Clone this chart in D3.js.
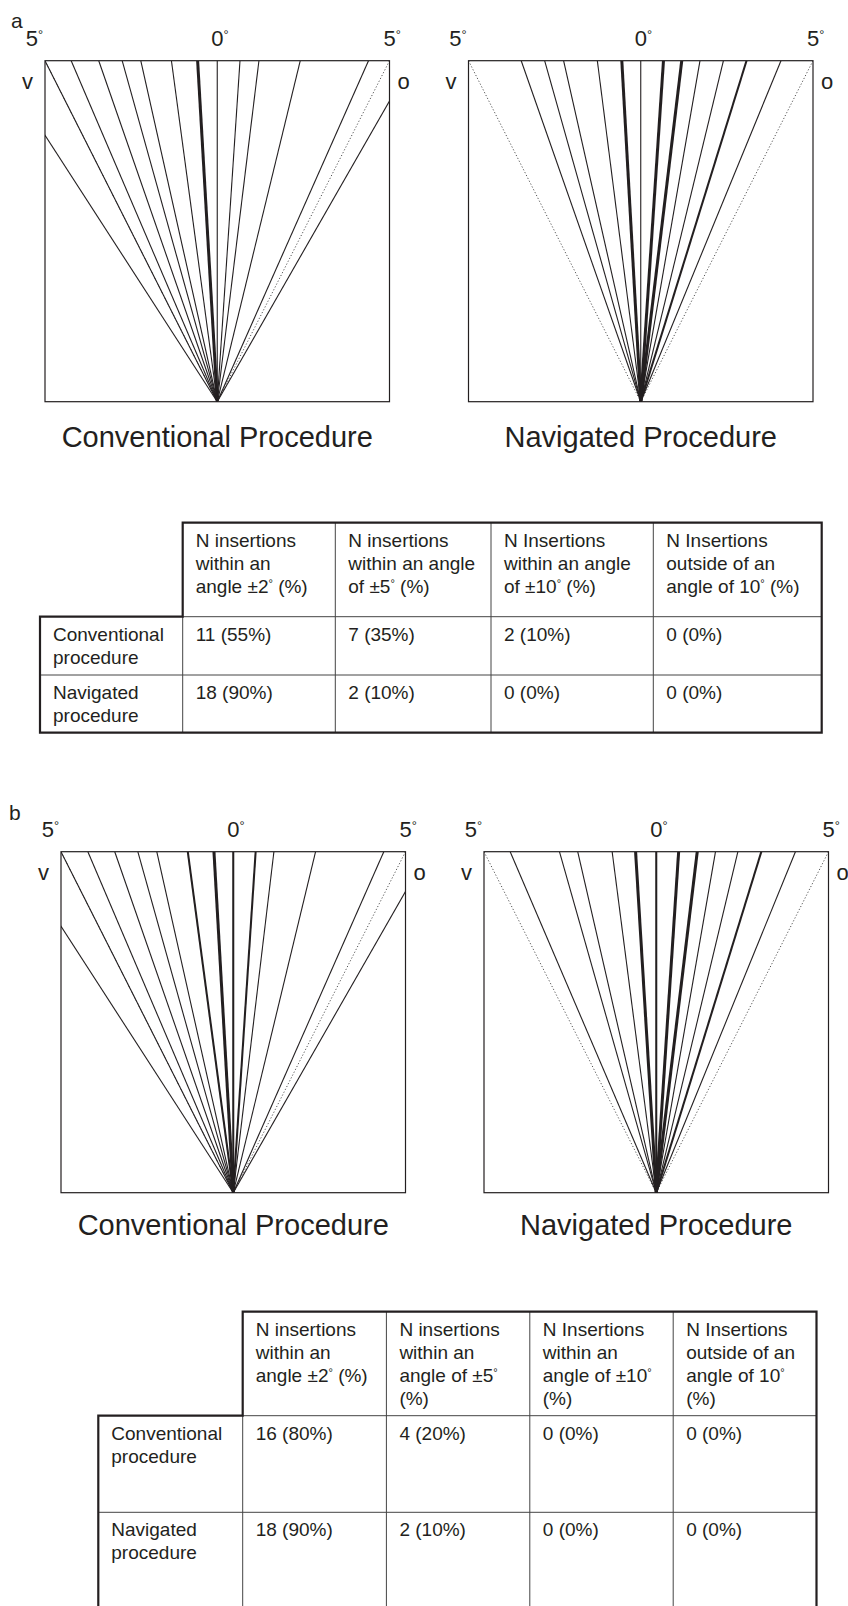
<!DOCTYPE html>
<html>
<head>
<meta charset="utf-8">
<script src="https://cdn.jsdelivr.net/npm/d3@7"></script>
<style>
  html, body { margin: 0; padding: 0; background: #fff; }
  svg { display: block; }
  text { font-family: "Liberation Sans", Arial, Helvetica, sans-serif; fill: #231f20; }
</style>
</head>
<body>
<svg id="fig" width="848" height="1606"></svg>
<script>
// Insertion trajectories: lateral deviation at the top of the field, in degrees
// (negative = towards "v", positive = towards "o"); weight = overlapping insertions.
const convAAngles = [-6.4, -5.0, -4.24, -3.44, -2.76, -2.22, -1.33, -0.57, 0, 0.66, 1.21, 2.41, 4.39, 5.67];
const convAWeight = [1, 1, 1, 1, 1, 1, 1, 3, 1, 1, 1, 1, 1, 1];
const navAAngles  = [-3.47, -2.79, -2.24, -1.26, -0.55, 0, 0.66, 1.19, 1.72, 2.40, 3.07, 4.07];
const navAWeight  = [1, 1, 1, 1, 3, 1, 3, 3, 1, 1, 2, 1];
const convBAngles = [-6.4, -5.0, -4.22, -3.44, -2.77, -2.22, -1.32, -0.56, 0, 0.65, 1.18, 2.39, 4.37, 5.66];
const convBWeight = [1, 1, 1, 1, 1, 1, 2, 3, 2, 2, 1, 1, 1, 1];
const navBAngles  = [-4.24, -2.81, -2.28, -1.28, -0.60, 0, 0.65, 1.19, 1.72, 2.37, 3.05, 4.04];
const navBWeight  = [1, 1, 1, 1, 3, 2, 3, 3, 1, 1, 2, 1];

// ±5° reference limits and the angle labels along the top
const limitAngles = [-5, 5];
const degreeTicks = [-5, 0, 5];
const sideLabels = ["v", "o"];
const procedureTitles = ["Conventional Procedure", "Navigated Procedure"];
const panelLetters = ["a", "b"];

// Summary tables
const totalInsertions = 20;
const headersA = [
  ["N insertions", "within an", "angle ±2° (%)"],
  ["N insertions", "within an angle", "of ±5° (%)"],
  ["N Insertions", "within an angle", "of ±10° (%)"],
  ["N Insertions", "outside of an", "angle of 10° (%)"]
];
const headersB = [
  ["N insertions", "within an", "angle ±2° (%)"],
  ["N insertions", "within an", "angle of ±5°", "(%)"],
  ["N Insertions", "within an", "angle of ±10°", "(%)"],
  ["N Insertions", "outside of an", "angle of 10°", "(%)"]
];
const rowLabels = [["Conventional", "procedure"], ["Navigated", "procedure"]];
const convACounts = [11, 7, 2, 0];
const navACounts  = [18, 2, 0, 0];
const convBCounts = [16, 4, 0, 0];
const navBCounts  = [18, 2, 0, 0];

const svg = d3.select("#fig");
const INK = "#231f20";

// Writes a string into a <text>, drawing each "°" as a small raised ring.
function writeWithDegrees(textSel, str, fs) {
  const parts = str.split("°");
  parts.forEach((p, i) => {
    const t = textSel.append("tspan").text(p);
    if (i > 0) t.attr("dy", fs * 0.32);
    if (i < parts.length - 1) {
      textSel.append("tspan").attr("font-size", fs * 0.58).attr("dy", -fs * 0.32).text("°");
    }
  });
}

// ---- fan diagrams ----
const FAN_W = 344.5, FAN_H = 341;
const fanFont = 22;
const strokeW = d3.scaleLinear().domain([1, 3]).range([1.1, 3.0]);

function drawFan(left, top, angles, weights, clipId) {
  const g = svg.append("g").attr("transform", `translate(${left},${top})`);
  const x = d3.scaleLinear().domain([-5, 5]).range([0, FAN_W]);
  const y = d3.scaleLinear().domain([0, 1]).range([FAN_H, 0]);   // 0 = entry point, 1 = top edge
  const ray = d3.line().x(d => x(d[0])).y(d => y(d[1]));

  g.append("clipPath").attr("id", clipId)
    .append("rect").attr("width", FAN_W).attr("height", FAN_H);
  const body = g.append("g").attr("clip-path", `url(#${clipId})`);

  body.selectAll("path.limit").data(limitAngles).join("path")
    .attr("class", "limit")
    .attr("d", a => ray([[0, 0], [a, 1]]))
    .attr("fill", "none").attr("stroke", "#555")
    .attr("stroke-width", 1).attr("stroke-dasharray", "1.2,2");

  const rays = angles.map((a, i) => ({ a, w: weights[i] }));
  body.selectAll("path.ray").data(rays).join("path")
    .attr("class", "ray")
    .attr("d", d => ray([[0, 0], [d.a, 1]]))
    .attr("fill", "none").attr("stroke", INK)
    .attr("stroke-width", d => strokeW(d.w));

  g.append("rect").attr("width", FAN_W).attr("height", FAN_H)
    .attr("fill", "none").attr("stroke", INK).attr("stroke-width", 1.2);

  // angle labels along the top edge
  degreeTicks.forEach(v => {
    const t = g.append("text").attr("y", -15).attr("font-size", fanFont);
    if (v < 0) {
      t.attr("x", x(v) - 2).attr("text-anchor", "end");
    } else {
      t.attr("x", x(v) - fanFont * 0.278).attr("text-anchor", "start");
    }
    writeWithDegrees(t, Math.abs(v) + "°", fanFont);
  });

  g.append("text").attr("x", -12).attr("y", 28).attr("text-anchor", "end")
    .attr("font-size", fanFont).text(sideLabels[0]);
  g.append("text").attr("x", FAN_W + 8).attr("y", 28).attr("text-anchor", "start")
    .attr("font-size", fanFont).text(sideLabels[1]);
  return g;
}

function drawTitle(cx, baseline, str) {
  svg.append("text").attr("x", cx).attr("y", baseline).attr("text-anchor", "middle")
    .attr("font-size", 29).text(str);
}

drawFan(45, 60.7, convAAngles, convAWeight, "clipA1");
drawFan(468.5, 60.7, navAAngles, navAWeight, "clipA2");
drawFan(61, 851.7, convBAngles, convBWeight, "clipB1");
drawFan(484, 851.7, navBAngles, navBWeight, "clipB2");

drawTitle(45 + FAN_W / 2, 447, procedureTitles[0]);
drawTitle(468.5 + FAN_W / 2, 447, procedureTitles[1]);
drawTitle(61 + FAN_W / 2, 1235, procedureTitles[0]);
drawTitle(484 + FAN_W / 2, 1235, procedureTitles[1]);

svg.append("text").attr("x", 11).attr("y", 28).attr("font-size", 21).text(panelLetters[0]);
svg.append("text").attr("x", 9).attr("y", 820).attr("font-size", 21).text(panelLetters[1]);

// ---- tables ----
const tableFont = 19, lineGap = 23, padX = 13, firstBase = 24;
const pct = n => `${n} (${Math.round(n / totalInsertions * 100)}%)`;

function drawTable(colEdges, rowEdges, headers, rows) {
  const g = svg.append("g");
  const L = colEdges[0], C = colEdges[1], R = colEdges[colEdges.length - 1];
  const T = rowEdges[0], H = rowEdges[1], B = rowEdges[rowEdges.length - 1];

  // inner rules
  const thin = [];
  colEdges.slice(2, -1).forEach(cx => thin.push([[cx, T], [cx, B]]));
  thin.push([[C, H], [C, B]]);
  thin.push([[C, H], [R, H]]);
  rowEdges.slice(2, -1).forEach(ry => thin.push([[L, ry], [R, ry]]));
  g.selectAll("path.rule").data(thin).join("path").attr("class", "rule")
    .attr("d", d3.line()).attr("stroke", "#444").attr("stroke-width", 1).attr("fill", "none");

  // heavy outline around the stepped table shape
  g.append("path")
    .attr("d", d3.line()([[C, T], [R, T], [R, B], [L, B], [L, H], [C, H], [C, T]]) + "Z")
    .attr("fill", "none").attr("stroke", INK).attr("stroke-width", 2.2)
    .attr("stroke-linejoin", "miter");

  // column headers
  headers.forEach((lines, j) => {
    lines.forEach((s, k) => {
      const t = g.append("text").attr("x", colEdges[j + 1] + padX)
        .attr("y", T + firstBase + k * lineGap).attr("font-size", tableFont);
      writeWithDegrees(t, s, tableFont);
    });
  });

  // body rows
  rows.forEach((row, i) => {
    const top = rowEdges[i + 1];
    row.label.forEach((s, k) => {
      g.append("text").attr("x", L + padX).attr("y", top + firstBase + k * lineGap)
        .attr("font-size", tableFont).text(s);
    });
    row.counts.forEach((n, j) => {
      g.append("text").attr("x", colEdges[j + 1] + padX).attr("y", top + firstBase)
        .attr("font-size", tableFont).text(pct(n));
    });
  });
}

drawTable([40, 182.7, 335.3, 491, 653.3, 821.7], [522.7, 616.7, 675, 732.7], headersA,
  [{ label: rowLabels[0], counts: convACounts }, { label: rowLabels[1], counts: navACounts }]);
drawTable([98.3, 242.7, 386.4, 529.8, 673.2, 816.5], [1311.7, 1415.7, 1512.3, 1608.9], headersB,
  [{ label: rowLabels[0], counts: convBCounts }, { label: rowLabels[1], counts: navBCounts }]);
</script>
</body>
</html>
